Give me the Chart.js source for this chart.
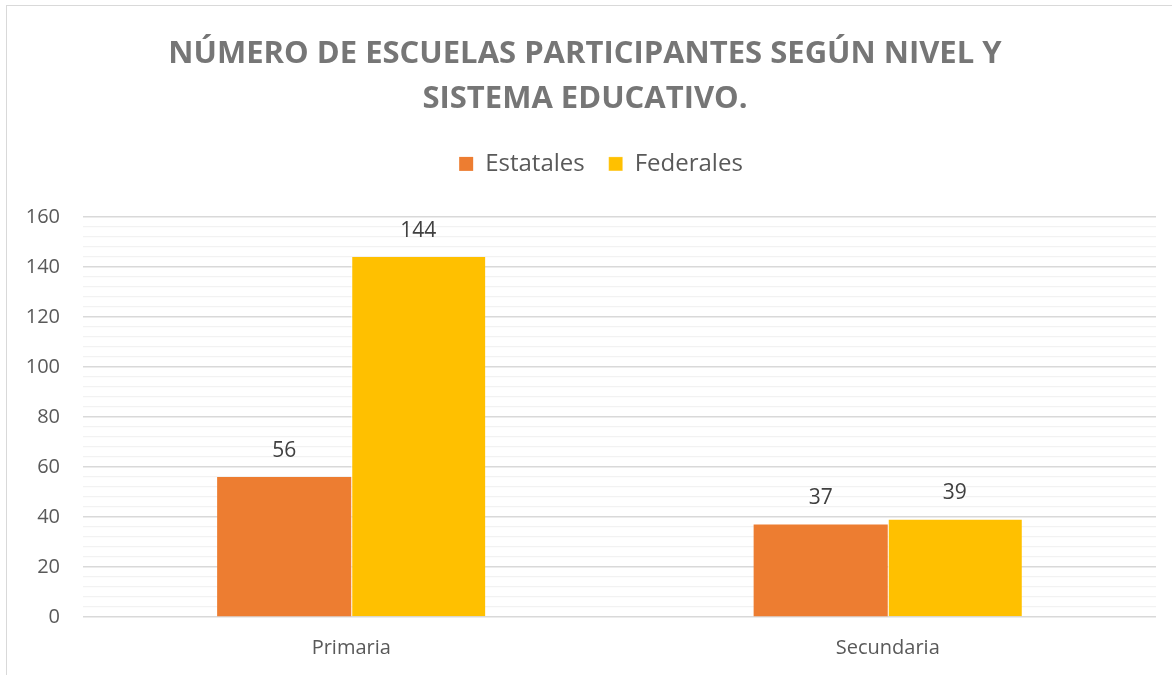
<!DOCTYPE html>
<html lang="es">
<head>
<meta charset="utf-8">
<title>Escuelas participantes</title>
<script src="https://cdn.jsdelivr.net/npm/chart.js@4"></script>
<style>
  html, body { margin: 0; padding: 0; background: #fff; overflow: hidden; }
  #wrap { position: relative; width: 1172px; height: 675px; }
  #frame { position: absolute; left: 6px; top: 5px; width: 1200px; height: 700px; border: 1.5px solid #d9d9d9; box-sizing: border-box; pointer-events: none; }
</style>
</head>
<body>
<div id="wrap">
  <canvas id="chart" width="1172" height="675"></canvas>
  <div id="frame"></div>
</div>
<script>
// data
const categories = ['Primaria', 'Secundaria'];
const estatales = [56, 37];
const federales = [144, 39];
const seriesNames = ['Estatales', 'Federales'];
const yTicks = [0, 20, 40, 60, 80, 100, 120, 140, 160];

const FONT = "'Open Sans', 'Noto Sans', sans-serif";

// draws the value above each bar
const barValues = {
    id: 'barValues',
    afterDatasetsDraw(chart) {
        const ctx = chart.ctx;
        ctx.save();
        ctx.font = '21px ' + FONT;
        ctx.fillStyle = '#404040';
        ctx.textAlign = 'center';
        ctx.textBaseline = 'middle';
        chart.data.datasets.forEach((ds, i) => {
            chart.getDatasetMeta(i).data.forEach((bar, j) => {
                ctx.fillText(ds.data[j], bar.x, bar.y - 26);
            });
        });
        ctx.restore();
    }
};

// extra room under the legend, and nudge it a bit to the right like the original
const legendGap = {
    id: 'legendGap',
    beforeLayout(chart) {
        const legend = chart.legend;
        if (legend && !legend._gapPatched) {
            const fit = legend.fit;
            legend.fit = function () {
                fit.call(this);
                this.height += 31;
            };
            legend._gapPatched = true;
        }
    },
    afterLayout(chart) {
        if (chart.legend) {
            chart.legend.left += 16;
            chart.legend.right += 16;
        }
    }
};

const ctx = document.getElementById('chart').getContext('2d');
new Chart(ctx, {
    type: 'bar',
    data: {
        labels: categories,
        datasets: [
            { label: seriesNames[0], data: estatales, backgroundColor: '#ED7D31' },
            { label: seriesNames[1], data: federales, backgroundColor: '#FFC000', borderColor: '#ffffff', borderWidth: { left: 1 } }
        ]
    },
    options: {
        responsive: false,
        animation: false,
        layout: { padding: { left: 14, right: 16, top: 22, bottom: 0 } },
        datasets: { bar: { categoryPercentage: 0.5, barPercentage: 1 } },
        plugins: {
            title: {
                display: true,
                text: ['NÚMERO DE ESCUELAS PARTICIPANTES SEGÚN NIVEL Y', 'SISTEMA EDUCATIVO.'],
                color: '#767676',
                font: { family: FONT, size: 31, weight: 'bold', lineHeight: 1.45 },
                padding: { top: 10, bottom: 6 }
            },
            legend: {
                position: 'top',
                labels: {
                    color: '#595959',
                    font: { family: FONT, size: 24 },
                    boxWidth: 14,
                    boxHeight: 14,
                    padding: 24
                }
            },
            tooltip: { enabled: false }
        },
        scales: {
            x: {
                grid: { display: false },
                border: { display: false },
                ticks: { color: '#595959', font: { family: FONT, size: 20 }, padding: 11 },
                afterFit(scale) { scale.height = 58; }
            },
            y: {
                min: 0,
                max: 160,
                border: { display: false },
                grid: {
                    drawTicks: false,
                    color: (c) => (c.tick && c.tick.value % 20 === 0 ? '#d9d9d9' : '#f2f2f2'),
                    lineWidth: (c) => (c.tick && c.tick.value % 20 === 0 ? 1.5 : 1.2)
                },
                ticks: {
                    stepSize: 4,
                    autoSkip: false,
                    color: '#595959',
                    font: { family: FONT, size: 20 },
                    padding: 23,
                    callback: (v) => (yTicks.includes(v) ? v : '')
                },
                afterFit(scale) { scale.width = 69; }
            }
        }
    },
    plugins: [barValues, legendGap]
});
</script>
</body>
</html>
